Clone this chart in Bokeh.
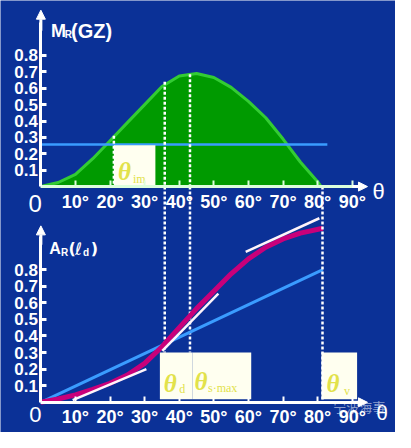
from bokeh.plotting import figure
from bokeh.models import Range1d, LinearAxis, FixedTicker, Arrow, NormalHead
from bokeh.embed import file_html
from bokeh.resources import INLINE
from bokeh.core.properties import value

# ---------------- data ----------------
# upper panel: righting moment / GZ curve
theta_gz = [0, 5, 10, 15, 20, 25, 30, 35, 40, 45, 50, 55, 60, 65, 70, 75, 80, 81]
gz = [0, 0.025, 0.075, 0.17, 0.28, 0.39, 0.5, 0.61, 0.675, 0.69, 0.665, 0.605, 0.52, 0.42, 0.29, 0.15, 0.03, 0]
heel_moment = 0.257          # constant heeling moment (light blue line)
heel_line_end = 82.8

# lower panel: dynamic stability curve (A_R) and heeling work line
theta_ad = [0, 5, 10, 15, 20, 25, 30, 35, 40, 45, 50, 55, 60, 65, 70, 75, 81.5]
ad = [0, 0.02, 0.045, 0.078, 0.115, 0.165, 0.235, 0.335, 0.45, 0.565, 0.67, 0.775, 0.865, 0.935, 0.985, 1.02, 1.05]
work_theta = [0, 81.5]
work_vals = [0, 0.80]

# tangent segments on the dynamic curve
tan_x0 = [9.2, 35.1, 59.2]
tan_y0 = [0.013, 0.31, 0.907]
tan_x1 = [30.5, 51.3, 80.5]
tan_y1 = [0.20, 0.655, 1.11]

# characteristic angles
theta_im = 21.1
theta_d = 35.8
theta_smax = 43.1
theta_v = 81.4
gz_at_im = 0.31
gz_at_d = 0.64
gz_at_smax = 0.685

# ticks
x_ticks = [10, 20, 30, 40, 50, 60, 70, 80, 90]
x_tick_labels = ["10°", "20°", "30°", "40°", "50°", "60°", "70°", "80°", "90°"]
y_ticks = [0.1, 0.2, 0.3, 0.4, 0.5, 0.6, 0.7, 0.8]
y_tick_labels = ["0.1", "0.2", "0.3", "0.4", "0.5", "0.6", "0.7", "0.8"]

# ---------------- style ----------------
BG = "#0b3197"
GREEN = "#009a00"
GREEN_EDGE = "#33cc33"
LBLUE = "#3a9cff"
MAGENTA = "#c8007a"
BOX = "#fffff0"
YEL = "#e2e24a"
W, H = 395, 432

X0, X1 = -11.667, 102.5
A0, A1 = -0.182, 2.423
M0, M1 = -1.5, 1.135
A_TOP_AXIS = A1 - (M1 - 0) / (M1 - M0) * (A1 - A0)
BOX_TOP = 0.30
BOX_BOT = 0.018

p = figure(width=W, height=H, x_range=Range1d(X0, X1), y_range=Range1d(A0, A1),
           output_backend="svg", toolbar_location=None, min_border=0,
           x_axis_type=None, y_axis_type=None)
p.extra_y_ranges = {"top": Range1d(M0, M1)}
p.background_fill_color = BG
p.border_fill_color = BG
p.outline_line_color = None

# ---------------- axes ----------------
def x_axis(rng, color):
    ax = LinearAxis(y_range_name=rng, fixed_location=0,
                    ticker=FixedTicker(ticks=x_ticks),
                    major_label_overrides=dict(zip(x_ticks, x_tick_labels)),
                    bounds=(0, 92),
                    axis_line_color=color, axis_line_width=3,
                    major_tick_line_color=color, major_tick_line_width=2,
                    major_tick_in=6, major_tick_out=0,
                    minor_tick_line_color=None,
                    major_label_text_color="white",
                    major_label_text_font="Liberation Sans",
                    major_label_text_font_style="bold",
                    major_label_text_font_size="18px",
                    major_label_standoff=5)
    p.add_layout(ax, "below")


def y_axis(rng, color):
    ax = LinearAxis(y_range_name=rng, fixed_location=0,
                    ticker=FixedTicker(ticks=y_ticks),
                    major_label_overrides=dict(zip(y_ticks, y_tick_labels)),
                    bounds=(0, 1.0),
                    axis_line_color=color, axis_line_width=3,
                    major_tick_line_color=color, major_tick_line_width=3,
                    major_tick_in=6, major_tick_out=0,
                    minor_tick_line_color=None,
                    major_label_text_color="white",
                    major_label_text_font="Liberation Sans",
                    major_label_text_font_style="bold",
                    major_label_text_font_size="17px",
                    major_label_standoff=3)
    p.add_layout(ax, "left")


# ---------------- upper panel ----------------
p.varea(x=theta_gz, y1=0, y2=gz, fill_color=GREEN, y_range_name="top")
p.line(theta_gz, gz, line_color=GREEN_EDGE, line_width=3, y_range_name="top")
p.line([0, heel_line_end], [heel_moment, heel_moment], line_color=LBLUE, line_width=2.5,
       y_range_name="top")
p.quad(left=theta_im, right=33.1, bottom=0, top=heel_moment - 0.005, fill_color=BOX,
       line_color=None, y_range_name="top")

# dotted verticals
dots = dict(line_color="white", line_width=2.5, line_dash="3 2")
p.segment(x0=[theta_im], y0=[gz_at_im], x1=[theta_im], y1=[0], y_range_name="top", **dots)
p.segment(x0=[theta_d, theta_smax], y0=[gz_at_d, gz_at_smax], x1=[theta_d, theta_smax],
          y1=[0, 0], y_range_name="top", **dots)
p.segment(x0=[theta_d, theta_smax], y0=[A_TOP_AXIS, A_TOP_AXIS], x1=[theta_d, theta_smax],
          y1=[BOX_TOP, BOX_TOP], **dots)

# ---------------- lower panel ----------------
p.line(work_theta, work_vals, line_color=LBLUE, line_width=3)
p.line(theta_ad, ad, line_color=MAGENTA, line_width=5, line_join="round")
p.segment(x0=tan_x0, y0=tan_y0, x1=tan_x1, y1=tan_y1, line_color="#fff4fa", line_width=2.5)

p.quad(left=[34.4, 43.9, 81.1], right=[43.9, 60.8, 91.4], bottom=BOX_BOT, top=BOX_TOP,
       fill_color=BOX, line_color=None)
p.segment(x0=[theta_v], y0=[A_TOP_AXIS], x1=[theta_v], y1=[0], **dots)

x_axis("top", "#dcffdc")
x_axis("default", "white")
y_axis("top", "white")
y_axis("default", "white")

# arrow heads
def arrow(xs, ys, xe, ye, rng, color):
    p.add_layout(Arrow(x_start=xs, y_start=ys, x_end=xe, y_end=ye, y_range_name=rng,
                       line_color=color, line_width=3,
                       end=NormalHead(size=9, fill_color=color, line_color=color)))

arrow(0, 0.95, 0, 1.076, "top", "white")
arrow(0, 0.95, 0, 1.064, "default", "white")
arrow(90, 0, 94.4, 0, "top", "white")
arrow(90, 0, 94.4, 0, "default", "white")

# ---------------- texts ----------------
def txt(x, y, s, size, rng="default", color="white", font="Liberation Sans", style="bold",
        align="left", baseline="alphabetic", alpha=1.0):
    p.text(x=[x], y=[y], text=[s], y_range_name=rng, text_color=color,
           text_font=value(font), text_font_style=style, text_font_size=size,
           text_align=align, text_baseline=baseline, text_alpha=alpha)

# axis titles
txt(2.9, 0.947, "M", "18px", "top")
txt(6.9, 0.925, "R", "10px", "top")
txt(8.7, 0.947, "(GZ)", "20px", "top")
txt(2.4, 0.926, "A", "16px")
txt(5.8, 0.903, "R", "10px")
txt(8.0, 0.926, "(", "16px", font="DejaVu Sans", style="bold")
txt(9.9, 0.926, "ℓ", "17px", font="DejaVu Sans", style="italic")
txt(12.2, 0.903, "d", "10px")
txt(14.4, 0.926, ")", "16px", font="DejaVu Sans", style="bold")

# origin zeros and theta axis labels
txt(-1.67, -0.106, "0", "24px", "top", style="normal", align="center", baseline="middle")
txt(-1.6, -0.072, "0", "22px", style="normal", align="center", baseline="middle")
txt(97.6, -0.03, "θ", "22px", "top", style="normal", align="center", baseline="middle")
txt(98.6, -0.062, "θ", "21px", style="normal", align="center", baseline="middle")

# angle labels in boxes
serif = "Liberation Serif"
txt(24.2, 0.094, "θ", "25px", "top", color=YEL, font=serif, style="bold italic", align="center")
txt(26.6, 0.045, "im", "12px", "top", color=YEL, font=serif, style="normal")
txt(37.4, 0.116, "θ", "25px", color=YEL, font=serif, style="bold italic", align="center")
txt(40.0, 0.078, "d", "12px", color=YEL, font=serif, style="normal")
txt(46.25, 0.128, "θ", "25px", color=YEL, font=serif, style="bold italic", align="center")
txt(48.3, 0.084, "s·max", "12px", color=YEL, font=serif, style="normal")
txt(84.4, 0.116, "θ", "25px", color=YEL, font=serif, style="bold italic", align="center")
txt(87.6, 0.068, "v", "12px", color=YEL, font=serif, style="normal")

# watermark
txt(92.0, -0.025, "宁波海事", "13px", color="white", font="Noto Sans CJK SC", style="normal",
    align="center", baseline="middle", alpha=0.55)

open("out.html", "w").write(file_html(p, INLINE))
